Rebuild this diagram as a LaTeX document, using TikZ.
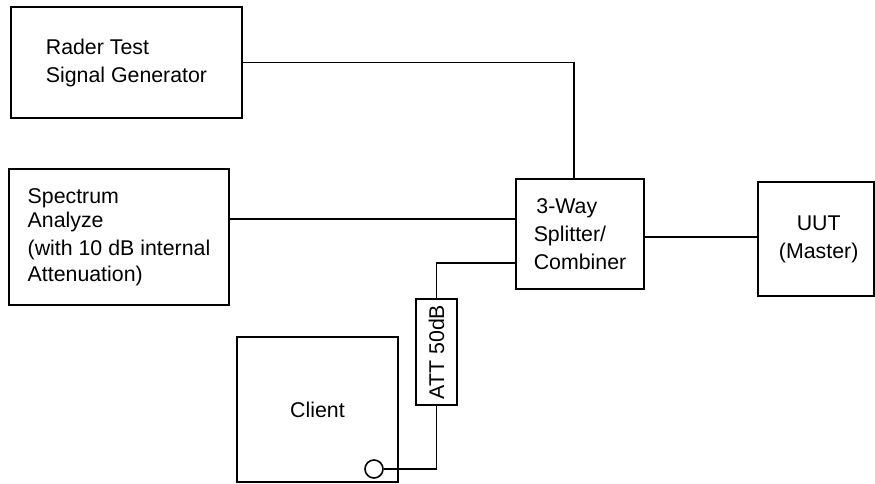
\documentclass[tikz,border=0pt]{standalone}
\usepackage{fontspec}
\setmainfont{Liberation Sans}
\usepackage{graphicx}
\usetikzlibrary{calc}

\begin{document}
\begin{tikzpicture}[
        x=0.75pt, y=-0.75pt,
        unitNode/.style={
            rectangle, draw=black, line width=1.2pt, fill=white,
            align=left, inner sep=0pt,
            font=\fontsize{16pt}{21pt}\selectfont
        },
        attNode/.style={
            unitNode, minimum width=30.75pt, minimum height=79.5pt
        },
        portNode/.style={
            circle, draw=black, line width=1.2pt, fill=white,
            minimum size=13.5pt, inner sep=0pt
        },
        wire/.style={
            line width=1.2pt, draw=black
        }
    ]
        \useasboundingbox (0,0) rectangle (875,483);

        % Test equipment
        \node (rader) [unitNode, minimum width=173.25pt, minimum height=83.25pt] at (126.5,62.5) {Rader Test\\Signal Generator};
        \node (spectrum) [unitNode, minimum width=165pt, minimum height=102pt] at (119,237) {
            Spectrum\\[-3pt]Analyze\\(with 10 dB internal\\[-1.5pt]Attenuation)
        };

        % RF network
        \node (splitter) [unitNode, minimum width=96pt, minimum height=82.5pt] at (580,234) {\hspace{2pt}3-Way\\Splitter/\\Combiner};
        \node (uut) [unitNode, align=center, minimum width=87pt, minimum height=85.5pt] at (816,239) {\hspace{4pt}UUT\\\hspace{4pt}(Master)};
        \node (att) [attNode] at (436.5,352) {\rotatebox{90}{ATT 50dB}};

        % Client side
        \node (client) [unitNode, minimum width=120.75pt, minimum height=108.75pt] at (317.5,409.5) {Client};
        \node (port) [portNode] at (374,469) {};

        \draw [wire] (rader.east) -| ([xshift=-4.5pt]splitter.north);
        \draw [wire] ([yshift=13.5pt]spectrum.east) -- ([yshift=13.5pt]spectrum.east -| splitter.west);
        \draw [wire] ([yshift=-2.25pt]splitter.east) -- ([yshift=-2.25pt]splitter.east -| uut.west);
        \draw [wire] ([yshift=-21.75pt]splitter.west) -| (att.north);
        \draw [wire] (port.east) -| (att.south);
    \end{tikzpicture}
\end{document}
